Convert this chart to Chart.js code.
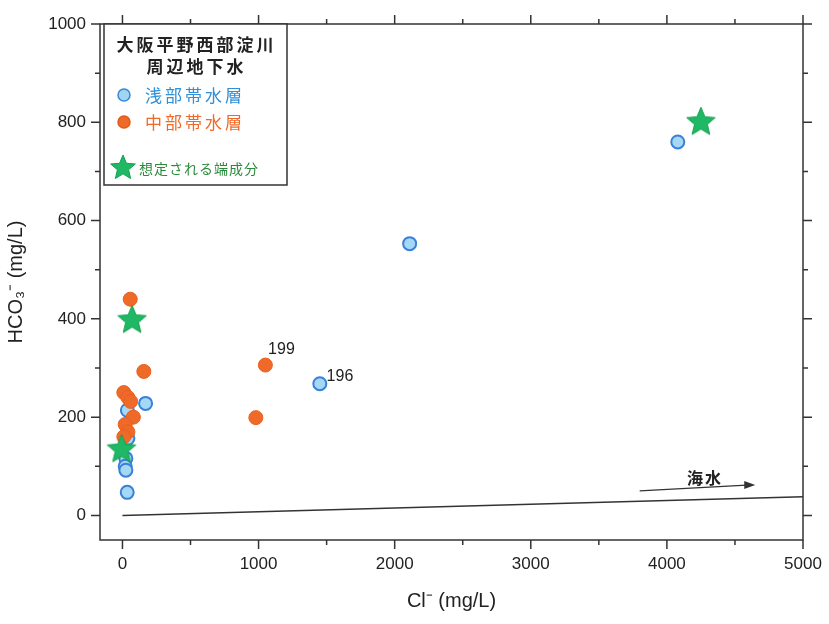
<!DOCTYPE html>
<html>
<head>
<meta charset="utf-8">
<script src="https://cdn.jsdelivr.net/npm/chart.js@4"></script>
<style>
  html, body { margin: 0; padding: 0; background: #fff; }
  #wrap { width: 829px; height: 624px; }
</style>
</head>
<body>
<div id="wrap"><canvas id="chart" width="829" height="624"></canvas></div>
<script>
// 浅部帯水層 (blue)
const shallowCl   = [4080, 2110, 1450, 170, 36, 40, 25, 20, 25, 35];
const shallowHco3 = [760, 553, 268, 228, 214, 157, 116, 100, 92, 47];
// 中部帯水層 (orange)
const middleCl    = [57, 157, 1050, 980, 10, 40, 60, 80, 20, 40, 10];
const middleHco3  = [440, 293, 306, 199, 250, 240, 232, 200, 185, 170, 160];
// 想定される端成分 (green stars)
const endCl       = [4250, 71, -7];
const endHco3     = [800, 397, 134];
// 海水 line
const seaCl   = [0, 5000];
const seaHco3 = [0, 38];

const xTicks = [0, 1000, 2000, 3000, 4000, 5000];
const yTicks = [0, 200, 400, 600, 800, 1000];

function pts(xs, ys) { return xs.map((x, i) => ({ x: x, y: ys[i] })); }

// filled 5-point star image for point style
function makeStar(r, fill, stroke) {
  const c = document.createElement('canvas');
  c.width = c.height = r * 2 + 4;
  const g = c.getContext('2d');
  const cx = r + 2, cy = r + 2;
  g.beginPath();
  for (let i = 0; i < 10; i++) {
    const rad = i % 2 === 0 ? r : r * 0.45;
    const a = -Math.PI / 2 + i * Math.PI / 5;
    g.lineTo(cx + rad * Math.cos(a), cy + rad * Math.sin(a));
  }
  g.closePath();
  g.fillStyle = fill; g.fill();
  g.strokeStyle = stroke; g.lineWidth = 1; g.stroke();
  return c;
}
const starImg = makeStar(15, '#1fb865', '#14a050');

const AXIS = '#333';
const FONT = '"Liberation Sans", Arial, sans-serif';
const JP = '"Noto Sans CJK JP", sans-serif';

// frame, ticks, annotations and legend
const extras = {
  id: 'extras',
  afterDraw(chart) {
    const ctx = chart.ctx, a = chart.chartArea;
    const xs = chart.scales.x, ys = chart.scales.y;
    ctx.save();
    ctx.strokeStyle = AXIS; ctx.lineWidth = 1.5;
    ctx.strokeRect(a.left, a.top, a.right - a.left, a.bottom - a.top);
    // x ticks (bottom and top)
    for (let v = 0; v <= 5000; v += 500) {
      const px = xs.getPixelForValue(v);
      const len = v % 1000 === 0 ? 9 : 5;
      ctx.beginPath();
      ctx.moveTo(px, a.bottom); ctx.lineTo(px, a.bottom + len);
      ctx.moveTo(px, a.top); ctx.lineTo(px, a.top - len);
      ctx.stroke();
    }
    // y ticks (left and right)
    for (let v = 0; v <= 1000; v += 100) {
      const py = ys.getPixelForValue(v);
      const len = v % 200 === 0 ? 9 : 5;
      ctx.beginPath();
      ctx.moveTo(a.left, py); ctx.lineTo(a.left - len, py);
      ctx.moveTo(a.right, py); ctx.lineTo(a.right + len, py);
      ctx.stroke();
    }
    // 海水 arrow
    const x1 = xs.getPixelForValue(3800), y1 = ys.getPixelForValue(50);
    const x2 = xs.getPixelForValue(4620), y2 = ys.getPixelForValue(62);
    ctx.lineWidth = 1.2;
    ctx.beginPath(); ctx.moveTo(x1, y1); ctx.lineTo(x2, y2); ctx.stroke();
    ctx.fillStyle = AXIS;
    ctx.beginPath();
    ctx.moveTo(x2 + 4, y2);
    ctx.lineTo(x2 - 7, y2 - 4);
    ctx.lineTo(x2 - 7, y2 + 4);
    ctx.closePath(); ctx.fill();
    ctx.font = 'bold 16px ' + JP;
    ctx.letterSpacing = '2px';
    ctx.fillStyle = '#222';
    ctx.textAlign = 'center'; ctx.textBaseline = 'middle';
    ctx.fillText('海水', xs.getPixelForValue(4280), ys.getPixelForValue(76));
    ctx.letterSpacing = '0px';
    // sample numbers
    ctx.font = '16px ' + FONT;
    ctx.textAlign = 'left';
    ctx.fillText('199', xs.getPixelForValue(1070), ys.getPixelForValue(338));
    ctx.fillText('196', xs.getPixelForValue(1500), ys.getPixelForValue(283));
    // legend box
    const lx = 104, ly = 24, lw = 183, lh = 161;
    ctx.fillStyle = '#fff';
    ctx.fillRect(lx, ly, lw, lh);
    ctx.strokeStyle = AXIS; ctx.lineWidth = 1.5;
    ctx.strokeRect(lx, ly, lw, lh);
    ctx.fillStyle = '#222';
    ctx.textAlign = 'center';
    ctx.font = 'bold 17px ' + JP;
    ctx.letterSpacing = '3px';
    ctx.fillText('大阪平野西部淀川', lx + lw / 2 + 1, ly + 21);
    ctx.fillText('周辺地下水', lx + lw / 2 + 1, ly + 43);
    ctx.textAlign = 'left';
    // blue item
    ctx.lineWidth = 1.5;
    ctx.beginPath(); ctx.arc(124, 95, 6, 0, Math.PI * 2);
    ctx.fillStyle = '#9fd6f2'; ctx.fill(); ctx.strokeStyle = '#3a86d8'; ctx.stroke();
    ctx.font = '17px ' + JP;
    ctx.fillStyle = '#2f8fd8';
    ctx.fillText('浅部帯水層', 145, 96);
    // orange item
    ctx.beginPath(); ctx.arc(124, 122, 6, 0, Math.PI * 2);
    ctx.fillStyle = '#ef6a28'; ctx.fill(); ctx.strokeStyle = '#e05a1a'; ctx.stroke();
    ctx.fillStyle = '#ef6a28';
    ctx.fillText('中部帯水層', 145, 123);
    // star item
    ctx.drawImage(makeStar(13, '#1fb865', '#14a050'), 123 - 15, 168 - 15);
    ctx.font = '14px ' + JP;
    ctx.letterSpacing = '1px';
    ctx.fillStyle = '#2a8a3a';
    ctx.fillText('想定される端成分', 139, 169);
    ctx.letterSpacing = '0px';
    ctx.restore();
  }
};

const tickFont = { family: FONT, size: 17 };

new Chart(document.getElementById('chart').getContext('2d'), {
  type: 'scatter',
  data: {
    datasets: [
      {
        label: '海水',
        data: pts(seaCl, seaHco3),
        showLine: true,
        borderColor: '#333',
        borderWidth: 1.5,
        pointRadius: 0,
        order: 4
      },
      {
        label: '浅部帯水層',
        data: pts(shallowCl, shallowHco3),
        backgroundColor: '#a4d8f4',
        borderColor: '#3a80d8',
        borderWidth: 2,
        pointRadius: 6.5,
        order: 3
      },
      {
        label: '中部帯水層',
        data: pts(middleCl, middleHco3),
        backgroundColor: '#ef6a28',
        borderColor: '#e8601e',
        borderWidth: 1,
        pointRadius: 7,
        order: 2
      },
      {
        label: '想定される端成分',
        data: pts(endCl, endHco3),
        pointStyle: starImg,
        pointRadius: 15,
        order: 1
      }
    ]
  },
  options: {
    responsive: false,
    animation: false,
    layout: { padding: { top: 24, right: 26, left: 0, bottom: 0 } },
    plugins: {
      legend: { display: false },
      tooltip: { enabled: false }
    },
    scales: {
      x: {
        type: 'linear',
        min: -165, max: 5000,
        afterBuildTicks: s => { s.ticks = xTicks.map(v => ({ value: v })); },
        grid: { display: false, drawTicks: false },
        border: { display: false },
        ticks: { font: tickFont, color: '#222', padding: 14, maxRotation: 0, callback: v => String(v) },
        title: { display: true, text: 'Cl⁻ (mg/L)', font: { family: FONT, size: 20 }, color: '#222', padding: { top: 2, bottom: 11 } },
        afterFit: s => { s.height = 84; s.paddingLeft = 0; s.paddingRight = 0; }
      },
      y: {
        type: 'linear',
        min: -50, max: 1000,
        afterBuildTicks: s => { s.ticks = yTicks.map(v => ({ value: v })); },
        grid: { display: false, drawTicks: false },
        border: { display: false },
        ticks: { font: tickFont, color: '#222', padding: 14, callback: v => String(v) },
        title: { display: true, text: 'HCO₃⁻ (mg/L)', font: { family: FONT, size: 20 }, color: '#222', padding: { bottom: 6 } },
        afterFit: s => { s.width = 100; s.paddingTop = 0; s.paddingBottom = 0; }
      }
    }
  },
  plugins: [extras]
});
</script>
</body>
</html>
